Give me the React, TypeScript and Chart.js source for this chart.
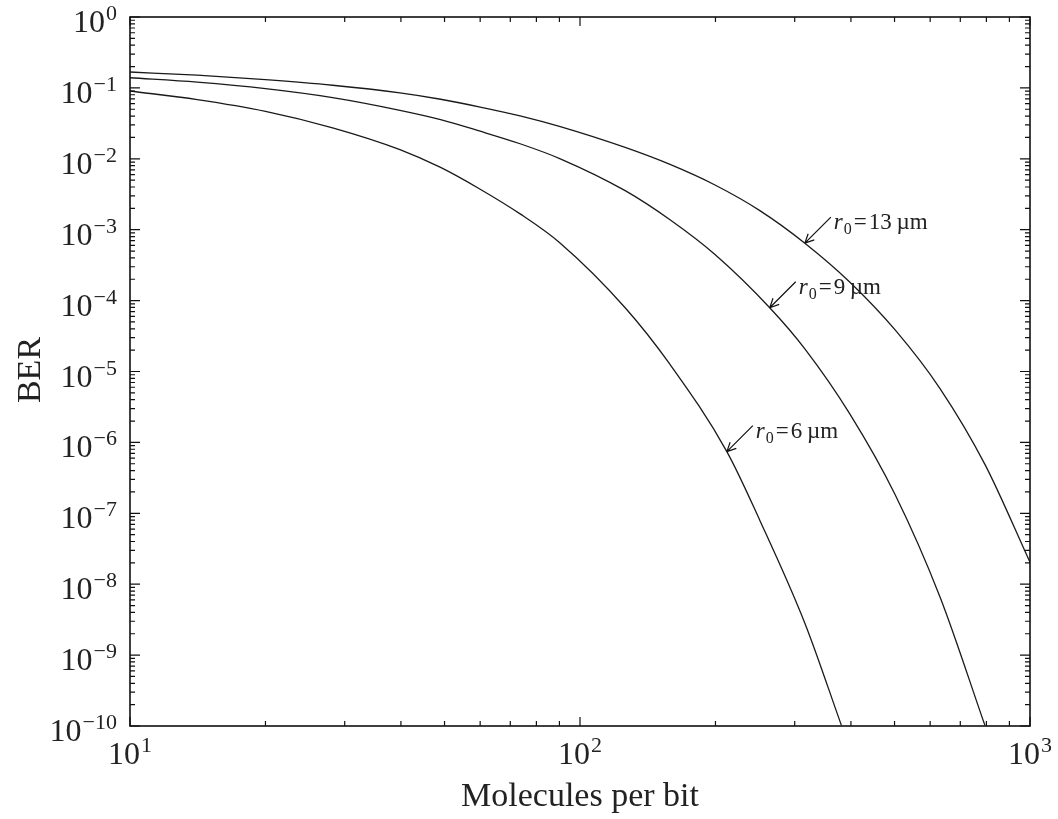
import React, { useEffect, useRef } from 'react';
import { Chart, registerables } from 'chart.js';

Chart.register(...registerables);

// Molecules per bit (x) and BER (y) for each curve
const molecules6 = [10, 14.1, 20, 28.2, 39.8, 49, 60, 73.6, 90.4, 126, 158.5, 212, 251, 316, 381];
const ber6 = [0.0904, 0.0685, 0.0468, 0.0274, 0.0135, 7.55e-3, 3.72e-3, 1.67e-3, 6.46e-4, 7.94e-5, 1.26e-5, 7.41e-7, 7.94e-8, 2.82e-9, 1.02e-10];

const molecules9 = [10, 14.1, 20, 28.2, 39.8, 49, 60, 73.6, 90.4, 126, 158.5, 199.5, 264, 316, 398, 501, 631, 794];
const ber9 = [0.139, 0.1205, 0.0977, 0.073, 0.0483, 0.0357, 0.0245, 0.0163, 0.01, 3.55e-3, 1.38e-3, 4.47e-4, 7.94e-5, 2.09e-5, 2.51e-6, 1.86e-7, 6.61e-9, 1.02e-10];

const molecules13 = [10, 14.1, 20, 28.2, 39.8, 49, 60, 73.6, 90.4, 126, 158.5, 199.5, 251, 316, 398, 501, 631, 794, 1000];
const ber13 = [0.1675, 0.151, 0.1306, 0.109, 0.0851, 0.0692, 0.0537, 0.0403, 0.0284, 0.01445, 8.32e-3, 4.27e-3, 1.86e-3, 6.46e-4, 1.82e-4, 3.89e-5, 5.75e-6, 4.9e-7, 2.04e-8];

const seriesLabels = ['r0=6 µm', 'r0=9 µm', 'r0=13 µm'];

// Tick labels (base 10 with exponent)
const xTickValues = [10, 100, 1000];
const xTickExps = ['1', '2', '3'];
const yTickValues = [1, 1e-1, 1e-2, 1e-3, 1e-4, 1e-5, 1e-6, 1e-7, 1e-8, 1e-9, 1e-10];
const yTickExps = ['0', '−1', '−2', '−3', '−4', '−5', '−6', '−7', '−8', '−9', '−10'];

// Annotation anchor points (on the curves) and their texts
const annotationX = [212, 264, 316];
const annotationY = [7.41e-7, 7.94e-5, 6.46e-4];
const annotationValue = ['6', '9', '13'];

const xTitle = 'Molecules per bit';
const yTitle = 'BER';

const SERIF = '"Liberation Serif", "DejaVu Serif", serif';

function drawPower(ctx: CanvasRenderingContext2D, exp: string, x: number, baseline: number, align: 'right' | 'center') {
  ctx.font = `32px ${SERIF}`;
  const wBase = ctx.measureText('10').width;
  ctx.font = `22px ${SERIF}`;
  const wExp = ctx.measureText(exp).width;
  const total = wBase + 1 + wExp;
  const left = align === 'right' ? x - total : x - total / 2;
  ctx.textAlign = 'left';
  ctx.textBaseline = 'alphabetic';
  ctx.font = `32px ${SERIF}`;
  ctx.fillText('10', left, baseline);
  ctx.font = `22px ${SERIF}`;
  ctx.fillText(exp, left + wBase + 1, baseline - 12);
}

const decorPlugin = {
  id: 'decor',
  afterDraw(chart: any) {
    const ctx: CanvasRenderingContext2D = chart.ctx;
    const { left, right, top, bottom } = chart.chartArea;
    const xs = chart.scales.x;
    const ys = chart.scales.y;
    ctx.save();
    ctx.strokeStyle = '#111';
    ctx.fillStyle = '#222';

    // frame
    ctx.lineWidth = 1.6;
    ctx.strokeRect(left, top, right - left, bottom - top);

    // ticks (inward, on all four sides)
    ctx.lineWidth = 1.2;
    ctx.beginPath();
    for (let d = 1; d <= 3; d++) {
      const px = xs.getPixelForValue(Math.pow(10, d));
      ctx.moveTo(px, bottom); ctx.lineTo(px, bottom - 9);
      ctx.moveTo(px, top); ctx.lineTo(px, top + 9);
      if (d < 3) {
        for (let k = 2; k <= 9; k++) {
          const mx = xs.getPixelForValue(k * Math.pow(10, d));
          ctx.moveTo(mx, bottom); ctx.lineTo(mx, bottom - 5);
          ctx.moveTo(mx, top); ctx.lineTo(mx, top + 5);
        }
      }
    }
    for (let d = -10; d <= 0; d++) {
      const py = ys.getPixelForValue(Math.pow(10, d));
      ctx.moveTo(left, py); ctx.lineTo(left + 10, py);
      ctx.moveTo(right, py); ctx.lineTo(right - 10, py);
      if (d < 0) {
        for (let k = 2; k <= 9; k++) {
          const my = ys.getPixelForValue(k * Math.pow(10, d));
          ctx.moveTo(left, my); ctx.lineTo(left + 5, my);
          ctx.moveTo(right, my); ctx.lineTo(right - 5, my);
        }
      }
    }
    ctx.stroke();

    // tick labels
    xTickValues.forEach((v, i) => {
      drawPower(ctx, xTickExps[i], xs.getPixelForValue(v), bottom + 38, 'center');
    });
    yTickValues.forEach((v, i) => {
      drawPower(ctx, yTickExps[i], left - 13, ys.getPixelForValue(v) + 15, 'right');
    });

    // axis titles
    ctx.font = `34px ${SERIF}`;
    ctx.textAlign = 'center';
    ctx.textBaseline = 'alphabetic';
    ctx.fillText(xTitle, (left + right) / 2, bottom + 80);
    ctx.save();
    ctx.translate(40, 370);
    ctx.rotate(-Math.PI / 2);
    ctx.fillText(yTitle, 0, 0);
    ctx.restore();

    // annotations (arrow + label)
    annotationX.forEach((av, i) => {
      const tx = xs.getPixelForValue(av);
      const ty = ys.getPixelForValue(annotationY[i]);
      const tailX = tx + 26;
      const tailY = ty - 26;
      ctx.lineWidth = 1.2;
      ctx.beginPath();
      ctx.moveTo(tailX, tailY);
      ctx.lineTo(tx, ty);
      const ang = Math.atan2(tailY - ty, tailX - tx);
      const hl = 10;
      ctx.moveTo(tx, ty);
      ctx.lineTo(tx + hl * Math.cos(ang + 0.45), ty + hl * Math.sin(ang + 0.45));
      ctx.moveTo(tx, ty);
      ctx.lineTo(tx + hl * Math.cos(ang - 0.45), ty + hl * Math.sin(ang - 0.45));
      ctx.stroke();

      let x0 = tx + 29;
      const base = ty - 14;
      ctx.textAlign = 'left';
      ctx.font = `italic 23px ${SERIF}`;
      ctx.fillText('r', x0, base);
      x0 += ctx.measureText('r').width + 1;
      ctx.font = `16px ${SERIF}`;
      ctx.fillText('0', x0, base + 5);
      x0 += ctx.measureText('0').width + 2;
      ctx.font = `23px ${SERIF}`;
      ctx.fillText('=', x0, base);
      x0 += ctx.measureText('=').width + 2;
      const rest = annotationValue[i] + '\u2009µm';
      ctx.fillText(rest, x0, base);
    });

    ctx.restore();
  },
};

export default function App() {
  const canvasRef = useRef<HTMLCanvasElement | null>(null);

  useEffect(() => {
    if (!canvasRef.current) return;
    const mk = (xsArr: number[], ysArr: number[]) => xsArr.map((x, i) => ({ x, y: ysArr[i] }));
    const common = {
      borderColor: '#1a1a1a',
      borderWidth: 1.3,
      pointRadius: 0,
      fill: false,
      cubicInterpolationMode: 'monotone' as const,
    };
    const chart = new Chart(canvasRef.current, {
      type: 'line',
      data: {
        datasets: [
          { label: seriesLabels[0], data: mk(molecules6, ber6), ...common },
          { label: seriesLabels[1], data: mk(molecules9, ber9), ...common },
          { label: seriesLabels[2], data: mk(molecules13, ber13), ...common },
        ],
      },
      options: {
        animation: false,
        responsive: false,
        events: [],
        layout: { padding: { left: 130, top: 17, right: 28, bottom: 93 } },
        plugins: { legend: { display: false }, tooltip: { enabled: false } },
        scales: {
          x: { type: 'logarithmic', min: 10, max: 1000, display: false },
          y: { type: 'logarithmic', min: 1e-10, max: 1, display: false },
        },
      },
      plugins: [decorPlugin],
    });
    return () => chart.destroy();
  }, []);

  return (
    <div style={{ position: 'absolute', left: 0, top: 0, width: 1058, height: 819, background: '#fff' }}>
      <canvas ref={canvasRef} width={1058} height={819} style={{ display: 'block' }} />
    </div>
  );
}
